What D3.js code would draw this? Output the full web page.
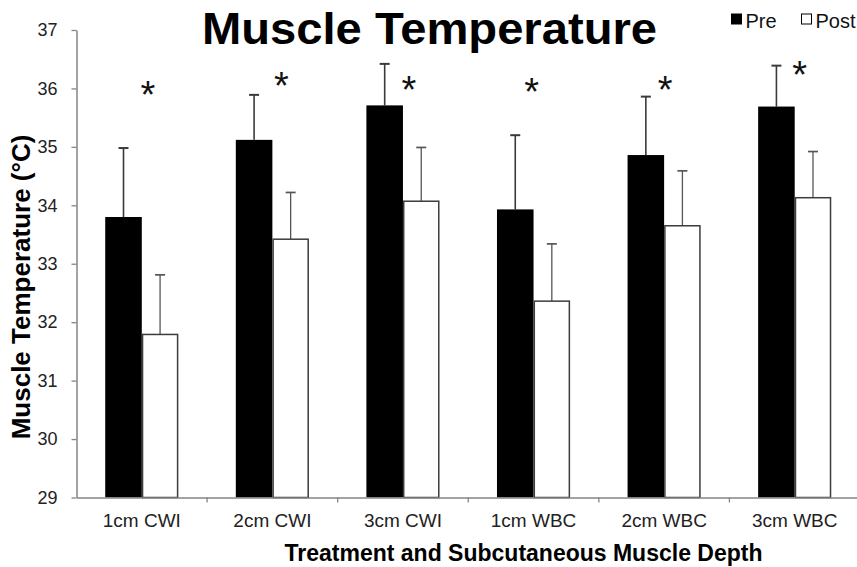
<!DOCTYPE html>
<html>
<head>
<meta charset="utf-8">
<script src="https://cdn.jsdelivr.net/npm/d3@7"></script>
<style>
  html, body { margin: 0; padding: 0; background: #fff; }
  svg { display: block; }
  text { font-family: "Liberation Sans", Arial, Helvetica, sans-serif; }
</style>
</head>
<body>
<svg id="chart" width="857" height="567"></svg>
<script>
// ---- data ----
const categories = ["1cm CWI", "2cm CWI", "3cm CWI", "1cm WBC", "2cm WBC", "3cm WBC"];
const series = ["Pre", "Post"];
const preValues  = [33.80, 35.12, 35.71, 33.93, 34.86, 35.69];
const preErrors  = [1.18, 0.77, 0.71, 1.27, 1.00, 0.70];
const postValues = [31.79, 33.42, 34.07, 32.36, 33.65, 34.13];
const postErrors = [1.02, 0.80, 0.92, 0.98, 0.94, 0.79];
const sigLevel   = [36.03, 36.18, 36.12, 36.08, 36.12, 36.37]; // asterisk height (°C)
const yTicks = [29, 30, 31, 32, 33, 34, 35, 36, 37];

// ---- layout ----
const W = 857, H = 567;
const plot = { left: 76.5, right: 860, top: 30, bottom: 497.5 };
const starDx = [6, 9, 6, -2, 1, 5];
const axisColor = "#858585";

const svg = d3.select("#chart");

const x = d3.scaleBand().domain(categories).range([plot.left, plot.right]).paddingInner(0).paddingOuter(0);
const bw = x.bandwidth();
const xs = d3.scaleBand().domain(series).range([bw * 0.22, bw * 0.78]).padding(0);
const y = d3.scaleLinear().domain([29, 37]).range([plot.bottom, plot.top]);

const rows = categories.map((c, i) => ({
  cat: c,
  vals: [
    { s: "Pre", v: preValues[i], e: preErrors[i] },
    { s: "Post", v: postValues[i], e: postErrors[i] }
  ]
}));

// bars
const g = svg.append("g");
const groups = g.selectAll("g.grp").data(rows).join("g")
  .attr("class", "grp")
  .attr("transform", d => `translate(${x(d.cat)},0)`);

// error bars (drawn first, behind bars)
groups.selectAll("g.err").data(d => d.vals).join("g").attr("class", "err")
  .each(function(d) {
    const sel = d3.select(this);
    const cx = xs(d.s) + xs.bandwidth() / 2;
    const col = d.s === "Pre" ? "#3a3a3a" : "#555";
    const sw = d.s === "Pre" ? 1.6 : 1.3;
    sel.append("line").attr("x1", cx).attr("x2", cx)
      .attr("y1", y(d.v)).attr("y2", y(d.v + d.e))
      .attr("stroke", col).attr("stroke-width", sw);
    sel.append("line").attr("x1", cx - 5).attr("x2", cx + 5)
      .attr("y1", y(d.v + d.e)).attr("y2", y(d.v + d.e))
      .attr("stroke", col).attr("stroke-width", sw + 0.4);
  });

groups.selectAll("rect").data(d => d.vals).join("rect")
  .attr("x", d => xs(d.s) + (d.s === "Post" ? 0.75 : 0))
  .attr("width", d => xs.bandwidth() - (d.s === "Post" ? 1.5 : 0))
  .attr("y", d => y(d.v))
  .attr("height", d => y(29) - y(d.v))
  .attr("fill", d => d.s === "Pre" ? "#000" : "#fff")
  .attr("stroke", d => d.s === "Pre" ? "#000" : "#3c3c3c")
  .attr("stroke-width", d => d.s === "Pre" ? 0 : 1.5);

// asterisks
const starSize = 38;
svg.append("g").selectAll("text").data(categories).join("text")
  .attr("x", (c, i) => x(c) + bw / 2 + starDx[i])
  .attr("y", (c, i) => y(sigLevel[i]) + starSize * 0.56)
  .attr("text-anchor", "middle")
  .attr("font-size", starSize)
  .attr("fill", "#111")
  .text("*");

// y axis
const yAxis = svg.append("g")
  .attr("transform", `translate(${plot.left},0)`)
  .call(d3.axisLeft(y).tickValues(yTicks).tickSize(5).tickPadding(14).tickFormat(d3.format("d")).tickSizeOuter(0));
yAxis.select(".domain").attr("stroke", axisColor).attr("stroke-width", 1.5);
yAxis.selectAll(".tick line").attr("stroke", axisColor).attr("stroke-width", 1.3);
yAxis.selectAll(".tick text").attr("font-size", 18).attr("fill", "#222")
  .attr("font-family", "'Liberation Sans', Arial, sans-serif");

// x axis
const xAxis = svg.append("g")
  .attr("transform", `translate(0,${plot.bottom})`)
  .call(d3.axisBottom(x).tickSize(0).tickPadding(16).tickSizeOuter(0));
xAxis.select(".domain").attr("stroke", axisColor).attr("stroke-width", 1.5);
xAxis.selectAll(".tick text").attr("font-size", 19).attr("fill", "#222")
  .attr("font-family", "'Liberation Sans', Arial, sans-serif");
// tick marks at band boundaries
xAxis.append("g").selectAll("line").data(categories.slice(1)).join("line")
  .attr("x1", c => x(c)).attr("x2", c => x(c))
  .attr("y1", 0).attr("y2", 5)
  .attr("stroke", axisColor).attr("stroke-width", 1.3);

// title
svg.append("text")
  .attr("x", 429.5).attr("y", 44)
  .attr("text-anchor", "middle")
  .attr("font-size", 45).attr("font-weight", "bold").attr("fill", "#000")
  .attr("textLength", 455).attr("lengthAdjust", "spacingAndGlyphs")
  .text("Muscle Temperature");

// axis titles
svg.append("text")
  .attr("transform", "translate(30,287) rotate(-90)")
  .attr("text-anchor", "middle")
  .attr("font-size", 26).attr("font-weight", "bold").attr("fill", "#000")
  .text("Muscle Temperature (°C)");

svg.append("text")
  .attr("x", 523.5).attr("y", 561)
  .attr("text-anchor", "middle")
  .attr("font-size", 23).attr("font-weight", "bold").attr("fill", "#000")
  .text("Treatment and Subcutaneous Muscle Depth");

// legend
const legend = svg.append("g");
const legendItems = [
  { s: "Pre", x: 731.5, fill: "#000" },
  { s: "Post", x: 801.5, fill: "#fff" }
];
legendItems.forEach(it => {
  legend.append("rect").attr("x", it.x).attr("y", 14).attr("width", 10).attr("height", 10)
    .attr("fill", it.fill).attr("stroke", "#000").attr("stroke-width", 1);
  legend.append("text").attr("x", it.x + 14).attr("y", 27.5)
    .attr("font-size", 20).attr("fill", "#111").text(it.s);
});
</script>
</body>
</html>
